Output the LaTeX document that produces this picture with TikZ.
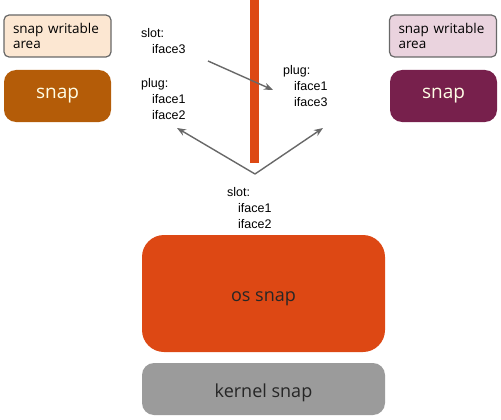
\documentclass[tikz,border=0pt]{standalone}
\usepackage{fontspec}
\setmainfont{Liberation Sans}
\newfontfamily\boxfont{Open Sans}
\usetikzlibrary{arrows.meta,positioning}

\definecolor{ubuorange}{HTML}{DD4814}
\definecolor{snapbrown}{HTML}{B45C08}
\definecolor{snapplum}{HTML}{77204C}
\definecolor{peach}{HTML}{FCE7D2}
\definecolor{pinkish}{HTML}{EAD3DE}
\definecolor{kernelgray}{HTML}{9B9B9B}
\definecolor{arrowgray}{HTML}{686868}

\begin{document}
\begin{tikzpicture}[
    x=1pt, y=-1pt,
    areabox/.style={
        rectangle,
        rounded corners=5pt,
        draw=arrowgray,
        line width=1.2pt,
        align=left,
        text width=89pt,
        inner xsep=9pt,
        minimum height=42pt,
        font=\boxfont\fontsize{13.5}{15.5}\selectfont
    },
    snapbox/.style={
        rectangle,
        rounded corners=12pt,
        minimum width=107pt,
        minimum height=52pt,
        text=white!90!yellow,
        font=\boxfont\fontsize{19}{22}\selectfont
    },
    bigbox/.style={
        rectangle,
        rounded corners=#1,
        minimum width=243pt,
        text=black!85,
        text height=20pt,
        text depth=4pt,
        font=\boxfont\fontsize{18}{22}\selectfont
    },
    iflabel/.style={
        anchor=north west,
        inner sep=0pt,
        align=left,
        font=\fontsize{12.5}{16}\selectfont
    },
    arrow/.style={-{Stealth[length=9pt,width=7pt]}, arrowgray, line width=1.4pt}
]
\useasboundingbox (0,0) rectangle (501,420);

% Left snap
\node[areabox, fill=peach] (areaL) at (57.5,36) {snap writable\\area};
\node[snapbox, fill=snapbrown] (snapL) at (57.5,96) {snap};

% Right snap
\node[areabox, fill=pinkish] (areaR) at (443,36) {snap writable\\area};
\node[snapbox, fill=snapplum] (snapR) at (443.5,96) {snap};

% Core snaps
\node[bigbox=22pt, fill=ubuorange, minimum height=117pt] (os) at (263.5,293.5) {os snap};
\node[bigbox=12pt, fill=kernelgray, minimum height=52pt] (kernel) at (263.5,389) {kernel snap};

% Separator
\coordinate (bartop) at (254,0);
\coordinate (barbot) at (254,163);
\draw[ubuorange, line width=9pt] (bartop) -- (barbot);

% Interface labels
\node[iflabel] (slotL) at (141,28) {slot:\\\hspace*{11pt}iface3};
\node[iflabel] (plugL) at (141,78) {plug:\\\hspace*{11pt}iface1\\\hspace*{11pt}iface2};
\node[iflabel] (plugR) at (283,65) {plug:\\\hspace*{11pt}iface1\\\hspace*{11pt}iface3};
\node[iflabel] (slotOS) at (227,187) {slot:\\\hspace*{11pt}iface1\\\hspace*{11pt}iface2};

% Connections
\coordinate (apex) at (255,174);
\coordinate (tipL) at (177,128);
\coordinate (tipR) at (323,128);
\coordinate (fromL) at (208,61);
\coordinate (toR) at (273,90);
\draw[arrow] (apex) -- (tipL);
\draw[arrow] (apex) -- (tipR);
\draw[arrow] (fromL) -- (toR);

\end{tikzpicture}
\end{document}
